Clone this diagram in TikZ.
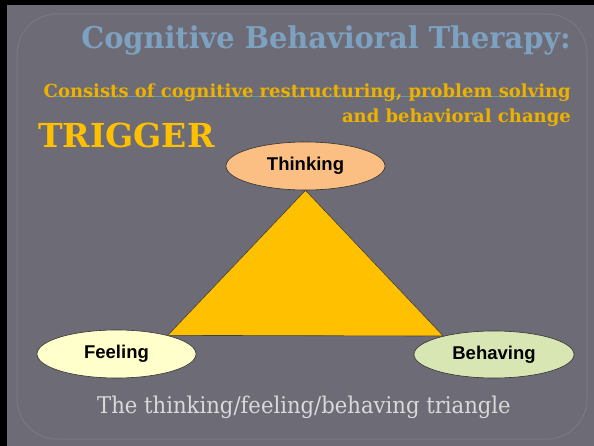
\documentclass[tikz,border=0pt]{standalone}
\usepackage{fontspec}
\setmainfont{DejaVu Serif}
\newfontfamily\slabfont{DejaVu Serif}
\newfontfamily\titlefont{DejaVu Serif}[FakeStretch=0.96]
\newfontfamily\captionfont{DejaVu Serif}[FakeStretch=0.92]
\newfontfamily\labelfont{Liberation Sans}
\usepackage{xcolor}
\usetikzlibrary{shapes.geometric,positioning}

\definecolor{slideGray}{HTML}{6D6C76}
\definecolor{frameLine}{HTML}{7A7983}
\definecolor{titleBlue}{HTML}{7DA1C0}
\definecolor{subGold}{HTML}{EDB200}
\definecolor{trigGold}{HTML}{FFC000}
\definecolor{thinkFill}{HTML}{FBBF84}
\definecolor{feelFill}{HTML}{FFFFCC}
\definecolor{behaveFill}{HTML}{D8E6B4}
\definecolor{captionGray}{HTML}{D9D9D9}

\begin{document}
\begin{tikzpicture}[
    x=1pt, y=-1pt,
    bubble/.style = {
        ellipse,
        draw=black!80,
        line width=0.6pt,
        minimum width=159pt,
        minimum height=48pt,
        inner sep=0pt,
        font=\labelfont\bfseries\fontsize{18.5}{20}\selectfont
    },
    titlestyle/.style = {
        inner sep=0pt,
        text=titleBlue,
        font=\titlefont\bfseries\fontsize{30}{34}\selectfont
    },
    substyle/.style = {
        inner sep=0pt,
        text=subGold,
        font=\slabfont\bfseries\fontsize{18}{22}\selectfont
    },
    triggerstyle/.style = {
        inner sep=0pt,
        text=trigGold,
        font=\slabfont\bfseries\fontsize{33}{36}\selectfont
    },
    captionstyle/.style = {
        inner sep=0pt,
        text=captionGray,
        font=\captionfont\fontsize{23}{26}\selectfont
    }
]

\useasboundingbox (0,0) rectangle (594,446);

% --- Fond de la diapositive ---
\fill[slideGray] (0,0) rectangle (594,446);
\fill[black] (0,0) rectangle (7,446);
\fill[black] (0,0) rectangle (594,5);
\draw[frameLine, line width=1pt, rounded corners=40pt] (17,14) rectangle (587,439);
\draw[titleBlue!70!cyan, line width=0.5pt, opacity=0.6] (48,96.5) -- (546,96.5);

% --- Titres ---
\node[titlestyle, anchor=base east] (title) at (571,49) {Cognitive Behavioral Therapy:};
\node[substyle, anchor=base east] (subLineA) at (571,98)
    {Consists of cognitive restructuring, problem solving};
\node[substyle, anchor=base east] (subLineB) at ([yshift=-25pt]subLineA.base east)
    {and behavioral change};
\node[triggerstyle, anchor=base west] (trigger) at (38,148) {TRIGGER};

% --- Sommets du triangle ---
\node[bubble, fill=thinkFill] (thinking) at (305.5,166) {Thinking};
\node[bubble, fill=feelFill] (feeling) at (116.5,354) {Feeling};
\node[bubble, fill=behaveFill, minimum width=160pt, minimum height=47pt] (behaving) at (494,354.5) {Behaving};

\filldraw[fill=trigGold, draw=black!75, line width=0.6pt, line join=miter]
    (thinking.south) -- (feeling.20) -- (behaving.160) -- cycle;

% --- Légende ---
\node[captionstyle, anchor=base] (caption) at (304,413) {The thinking/feeling/behaving triangle};

\end{tikzpicture}
\end{document}
